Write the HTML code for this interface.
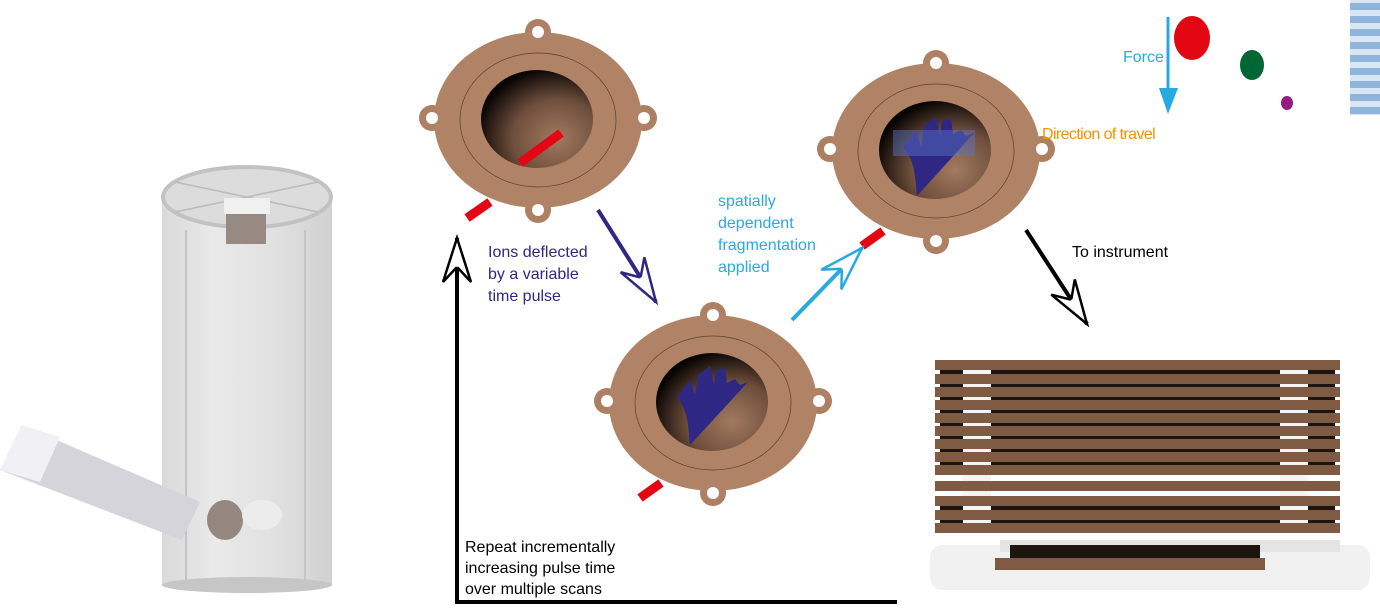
<!DOCTYPE html>
<html><head><meta charset="utf-8"><style>
html,body{margin:0;padding:0;background:#fff;}
svg{display:block;}
text{font-family:"Liberation Sans",sans-serif;}
</style></head><body>
<svg width="1380" height="610" viewBox="0 0 1380 610" xmlns="http://www.w3.org/2000/svg">
<defs>
<radialGradient id="hole" cx="0.68" cy="0.7" r="0.8">
<stop offset="0" stop-color="#a27a60"/><stop offset="0.5" stop-color="#6e4e3c"/><stop offset="0.9" stop-color="#0a0604"/><stop offset="1" stop-color="#000"/>
</radialGradient>
<linearGradient id="cyl" x1="0" x2="1">
<stop offset="0" stop-color="#d2d2d2"/><stop offset="0.3" stop-color="#e6e6e6"/><stop offset="0.7" stop-color="#dadada"/><stop offset="1" stop-color="#c8c8c8"/>
</linearGradient>
<pattern id="stripes" x="0" y="0" width="30" height="13" patternUnits="userSpaceOnUse">
<rect width="30" height="13" fill="#d9e6f4"/><rect y="3" width="30" height="7" fill="#8fb5dd"/>
</pattern>
<g id="disc">
<circle cx="-106" cy="-2" r="13" fill="#ad8064"/><circle cx="106" cy="-2" r="13" fill="#ad8064"/>
<circle cx="0" cy="-88" r="13" fill="#ad8064"/><circle cx="0" cy="90" r="13" fill="#ad8064"/>
<ellipse cx="0" cy="0" rx="104" ry="88" fill="#b08367"/>
<circle cx="-106" cy="-2" r="6" fill="#fff"/><circle cx="106" cy="-2" r="6" fill="#fff"/>
<circle cx="0" cy="-88" r="6" fill="#fff"/><circle cx="0" cy="90" r="6" fill="#fff"/>
<ellipse cx="0" cy="0" rx="78" ry="67" fill="none" stroke="#5a3e2e" stroke-width="0.7"/>
<ellipse cx="-1" cy="-1" rx="56" ry="49" fill="url(#hole)"/>
</g>
<marker id="mk" markerUnits="userSpaceOnUse" markerWidth="60" markerHeight="40" refX="0" refY="0" orient="auto" viewBox="-50 -20 60 40" overflow="visible">
<path d="M0,0 L-44,-14 L-30,-1 L-30,1 L-44,14 Z" fill="#fff" stroke="context-stroke" stroke-width="2.5"/>
</marker>
</defs>

<rect x="162" y="197" width="170" height="388" fill="url(#cyl)" opacity="0.85"/>
<ellipse cx="247" cy="585" rx="85" ry="8" fill="#c6c6c6"/>
<ellipse cx="247" cy="197" rx="84" ry="30" fill="#dcdcdc" stroke="#c2c2c2" stroke-width="4"/>
<line x1="175" y1="182" x2="318" y2="212" stroke="#bbb" stroke-width="1.5"/>
<line x1="175" y1="212" x2="318" y2="182" stroke="#bbb" stroke-width="1.5"/>
<rect x="226" y="210" width="40" height="34" fill="#968a82"/>
<rect x="224" y="198" width="46" height="16" fill="#f0f0f0"/>
<line x1="186" y1="230" x2="186" y2="580" stroke="#c4c4c4" stroke-width="2"/>
<line x1="305" y1="230" x2="305" y2="580" stroke="#c4c4c4" stroke-width="2"/>
<polygon points="22,425 200,502 182,540 0,470" fill="#d4d4da"/>
<polygon points="22,425 60,437 40,482 0,470" fill="#f1f1f5"/>
<ellipse cx="225" cy="520" rx="18" ry="20" fill="#958880"/>
<ellipse cx="262" cy="515" rx="20" ry="15" fill="#ececec"/>

<use href="#disc" x="538" y="120"/>
<use href="#disc" x="713" y="403"/>
<use href="#disc" x="936" y="151"/>

<line x1="520" y1="163" x2="561" y2="133" stroke="#e30613" stroke-width="9"/>
<line x1="467" y1="218" x2="490" y2="202" stroke="#e30613" stroke-width="9"/>
<line x1="640" y1="498" x2="661" y2="483" stroke="#e30613" stroke-width="9"/>
<line x1="862" y1="246" x2="883" y2="231" stroke="#e30613" stroke-width="9"/>

<path d="M690,445 C688,425 688,410 677,397 L690,380 L695,395 L698,375 L710,366 L714,385 L716,370 L725,368 L727,383 L735,379 L740,385 L748,382 Z" fill="#2e2784"/>
<path d="M917,196 C915,176 915,160 903,148 L916,131 L921,146 L924,126 L936,117 L940,136 L942,121 L951,119 L953,134 L961,130 L966,136 L974,133 Z" fill="#2e2784"/>
<rect x="893" y="130" width="82" height="26" fill="#5a74c8" opacity="0.45"/>

<line x1="598" y1="210" x2="656" y2="302" stroke="#2e2784" stroke-width="4" marker-end="url(#mk)"/>
<line x1="792" y1="320" x2="862" y2="248" stroke="#29a9e1" stroke-width="4" marker-end="url(#mk)"/>
<line x1="1026" y1="230" x2="1087" y2="324" stroke="#000" stroke-width="4" marker-end="url(#mk)"/>
<polyline points="897,602 457,602 457,238" fill="none" stroke="#000" stroke-width="4" marker-end="url(#mk)"/>

<text x="488" y="257" font-size="16" fill="#2e2784">Ions deflected</text>
<text x="488" y="279" font-size="16" fill="#2e2784">by a variable</text>
<text x="488" y="301" font-size="16" fill="#2e2784">time pulse</text>
<text x="718" y="206" font-size="16" fill="#29a9e1">spatially</text>
<text x="718" y="228" font-size="16" fill="#29a9e1">dependent</text>
<text x="718" y="250" font-size="16" fill="#29a9e1">fragmentation</text>
<text x="718" y="272" font-size="16" fill="#29a9e1">applied</text>
<text x="1072" y="257" font-size="16" fill="#000">To instrument</text>
<text x="465" y="552" font-size="16" fill="#000">Repeat incrementally</text>
<text x="465" y="573" font-size="16" fill="#000">increasing pulse time</text>
<text x="465" y="594" font-size="16" fill="#000">over multiple scans</text>
<text x="1042" y="139" font-size="16" fill="#f39200" letter-spacing="-0.6">Direction of travel</text>
<text x="1123" y="62" font-size="16" fill="#29a9e1">Force</text>

<line x1="1168" y1="17" x2="1168" y2="95" stroke="#29a9e1" stroke-width="3"/>
<polygon points="1159,88 1178,88 1168,114" fill="#29a9e1"/>
<ellipse cx="1192" cy="38" rx="18" ry="22" fill="#e30613"/>
<ellipse cx="1252" cy="65" rx="12" ry="15" fill="#006633"/>
<ellipse cx="1287" cy="103" rx="6" ry="7" fill="#951b81"/>
<rect x="1350" y="0" width="30" height="115" fill="url(#stripes)"/>

<rect x="930" y="545" width="440" height="45" rx="12" fill="#f1f1f1"/>
<rect x="1000" y="540" width="340" height="12" fill="#e4e4e4"/>
<g fill="#7f5b44">
<rect x="935" y="360" width="405" height="10"/>
<rect x="935" y="374" width="405" height="10"/>
<rect x="935" y="387" width="405" height="10"/>
<rect x="935" y="400" width="405" height="10"/>
<rect x="935" y="413" width="405" height="10"/>
<rect x="935" y="426" width="405" height="10"/>
<rect x="935" y="439" width="405" height="10"/>
<rect x="935" y="452" width="405" height="10"/>
<rect x="935" y="465" width="405" height="10"/>
<rect x="935" y="481" width="405" height="10"/>
<rect x="935" y="496" width="405" height="10"/>
<rect x="935" y="510" width="405" height="10"/>
<rect x="935" y="523" width="405" height="10"/>
<rect x="995" y="558" width="270" height="12"/>
</g>
<g fill="#1e140f">
<rect x="940" y="370" width="395" height="4"/>
<rect x="940" y="384" width="395" height="3"/>
<rect x="940" y="397" width="395" height="3"/>
<rect x="940" y="410" width="395" height="3"/>
<rect x="940" y="423" width="395" height="3"/>
<rect x="940" y="436" width="395" height="3"/>
<rect x="940" y="449" width="395" height="3"/>
<rect x="940" y="462" width="395" height="3"/>
<rect x="940" y="506" width="395" height="4"/>
<rect x="940" y="520" width="395" height="3"/>
<rect x="1010" y="545" width="250" height="13"/>
</g>
<rect x="1000" y="475" width="270" height="6" fill="#fff"/>
<rect x="1000" y="491" width="270" height="5" fill="#fff"/>
<g fill="#f4f4f4">
<rect x="963" y="370" width="28" height="4"/><rect x="963" y="384" width="28" height="3"/><rect x="963" y="397" width="28" height="3"/><rect x="963" y="410" width="28" height="3"/><rect x="963" y="423" width="28" height="3"/><rect x="963" y="436" width="28" height="3"/><rect x="963" y="449" width="28" height="3"/><rect x="963" y="462" width="28" height="3"/><rect x="963" y="475" width="28" height="6"/><rect x="963" y="491" width="28" height="5"/><rect x="963" y="506" width="28" height="4"/><rect x="963" y="520" width="28" height="3"/>
<rect x="1280" y="370" width="28" height="4"/><rect x="1280" y="384" width="28" height="3"/><rect x="1280" y="397" width="28" height="3"/><rect x="1280" y="410" width="28" height="3"/><rect x="1280" y="423" width="28" height="3"/><rect x="1280" y="436" width="28" height="3"/><rect x="1280" y="449" width="28" height="3"/><rect x="1280" y="462" width="28" height="3"/><rect x="1280" y="475" width="28" height="6"/><rect x="1280" y="491" width="28" height="5"/><rect x="1280" y="506" width="28" height="4"/><rect x="1280" y="520" width="28" height="3"/>
</g>
</svg>
</body></html>
